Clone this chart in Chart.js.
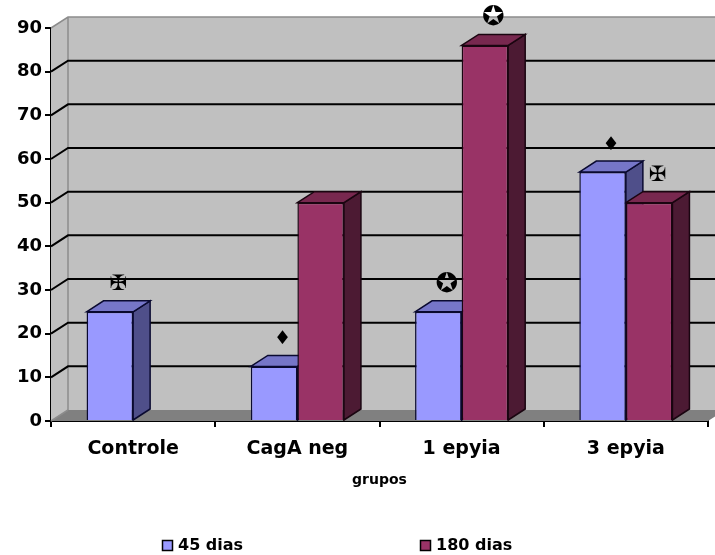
<!DOCTYPE html>
<html>
<head>
<meta charset="utf-8">
<script src="https://cdn.jsdelivr.net/npm/chart.js@4/dist/chart.umd.min.js"></script>
<style>
  html, body { margin: 0; padding: 0; background: #ffffff; }
  #wrap { width: 715px; height: 555px; }
</style>
</head>
<body>
<div id="wrap"><canvas id="grafico" width="715" height="555"></canvas></div>
<script>
// Categorias e valores (%)
const grupos = ['Controle', 'CagA neg', '1 epyia', '3 epyia'];
const dias45 = [25, 12.5, 25, 57];
const dias180 = [null, 50, 86, 50];
// Símbolos de significância desenhados sobre cada barra
const marcas45 = ['✠', '♦', '✪', '♦'];
const marcas180 = [null, null, '✪', '✠'];
const yTicks = [0, 10, 20, 30, 40, 50, 60, 70, 80, 90];

const FONTE = '"DejaVu Sans", "Liberation Sans", Arial, sans-serif';
// profundidade da perspectiva 3D
const DX = 17, DY = 11;

const cores = [
  { frente: '#9999FF', topo: '#7676C8', lado: '#4F4F8A', borda: '#0A0A30' },
  { frente: '#993366', topo: '#78284F', lado: '#4C1A33', borda: '#1A0510' }
];

function poly(ctx, pts, fill, stroke, lw) {
  ctx.beginPath();
  ctx.moveTo(pts[0][0], pts[0][1]);
  for (let i = 1; i < pts.length; i++) ctx.lineTo(pts[i][0], pts[i][1]);
  ctx.closePath();
  if (fill) { ctx.fillStyle = fill; ctx.fill(); }
  if (stroke) { ctx.strokeStyle = stroke; ctx.lineWidth = lw || 1; ctx.stroke(); }
}

// Paredes, piso, linhas de grade e faces laterais/superiores das barras
const cena3d = {
  id: 'cena3d',
  beforeDatasetsDraw(chart) {
    const { ctx, chartArea: { left, right, top, bottom }, scales: { y } } = chart;
    ctx.save();
    // parede do fundo
    ctx.fillStyle = '#C0C0C0';
    ctx.fillRect(left + DX, top - DY, right - left, bottom - top);
    // parede lateral esquerda
    poly(ctx, [[left, top], [left + DX, top - DY], [left + DX, bottom - DY], [left, bottom]], '#C0C0C0');
    // piso
    poly(ctx, [[left, bottom], [right, bottom], [right + DX, bottom - DY], [left + DX, bottom - DY]], '#808080');

    // contornos das paredes
    ctx.strokeStyle = '#8C8C8C';
    ctx.lineWidth = 1.5;
    ctx.beginPath();
    ctx.moveTo(left, top);
    ctx.lineTo(left + DX, top - DY);
    ctx.lineTo(right + DX, top - DY);
    ctx.moveTo(left + DX, top - DY);
    ctx.lineTo(left + DX, bottom - DY);
    ctx.moveTo(left, bottom);
    ctx.lineTo(left + DX, bottom - DY);
    ctx.stroke();

    // linhas de grade
    ctx.strokeStyle = '#000000';
    ctx.lineWidth = 2;
    yTicks.forEach(v => {
      if (v === y.min || v === y.max) return;
      const py = y.getPixelForValue(v);
      ctx.beginPath();
      ctx.moveTo(left, py);
      ctx.lineTo(left + DX, py - DY);
      ctx.lineTo(right + DX, py - DY);
      ctx.stroke();
    });

    // faces laterais e superiores das barras
    chart.data.datasets.forEach((ds, d) => {
      const meta = chart.getDatasetMeta(d);
      const c = cores[d];
      meta.data.forEach((el, i) => {
        if (ds.data[i] == null) return;
        const p = el.getProps(['x', 'y', 'base', 'width'], true);
        const l = p.x - p.width / 2, r = p.x + p.width / 2;
        poly(ctx, [[r, p.y], [r + DX, p.y - DY], [r + DX, p.base - DY], [r, p.base]], c.lado, c.borda, 1.5);
        poly(ctx, [[l, p.y], [l + DX, p.y - DY], [r + DX, p.y - DY], [r, p.y]], c.topo, c.borda, 1.5);
      });
    });
    ctx.restore();
  },
  afterDatasetsDraw(chart) {
    const { ctx } = chart;
    const marcas = [marcas45, marcas180];
    const tamanho = { '✪': 27, '✠': 21, '♦': 19 };
    ctx.save();
    ctx.fillStyle = '#000000';
    ctx.textAlign = 'center';
    ctx.textBaseline = 'middle';
    chart.data.datasets.forEach((ds, d) => {
      const meta = chart.getDatasetMeta(d);
      meta.data.forEach((el, i) => {
        const m = marcas[d][i];
        if (!m || ds.data[i] == null) return;
        const p = el.getProps(['x', 'y'], true);
        ctx.font = 'bold ' + tamanho[m] + 'px ' + FONTE;
        ctx.fillText(m, p.x + DX / 2, p.y - 27);
      });
    });
    ctx.restore();
  },
  afterDraw(chart) {
    // legenda
    const { ctx } = chart;
    const posX = [162, 420];
    const yc = 545;
    ctx.save();
    ctx.font = 'bold 16px ' + FONTE;
    ctx.textAlign = 'left';
    ctx.textBaseline = 'middle';
    chart.data.datasets.forEach((ds, d) => {
      const x = posX[d];
      ctx.fillStyle = ds.backgroundColor;
      ctx.fillRect(x, yc - 5, 11, 11);
      ctx.strokeStyle = '#000000';
      ctx.lineWidth = 1.5;
      ctx.strokeRect(x + 0.5, yc - 4.5, 10, 10);
      ctx.fillStyle = '#000000';
      ctx.fillText(ds.label, x + 16, yc + 1);
    });
    ctx.restore();
  }
};

new Chart(document.getElementById('grafico'), {
  type: 'bar',
  data: {
    labels: grupos,
    datasets: [
      { label: '45 dias', data: dias45, backgroundColor: cores[0].frente, borderColor: cores[0].borda, borderWidth: 1.5 },
      { label: '180 dias', data: dias180, backgroundColor: cores[1].frente, borderColor: cores[1].borda, borderWidth: 1.5 }
    ]
  },
  options: {
    responsive: false,
    animation: false,
    layout: { padding: { top: 28, right: 7, bottom: 66, left: 0 } },
    datasets: { bar: { categoryPercentage: 0.567, barPercentage: 1.0 } },
    plugins: {
      legend: { display: false },
      tooltip: { enabled: false }
    },
    scales: {
      x: {
        afterFit(s) { s.height = 68; },
        grid: { offset: true, drawOnChartArea: false, tickLength: 6, color: '#000000', lineWidth: 2 },
        border: { display: true, color: '#000000', width: 2 },
        ticks: { color: '#000000', padding: 11, font: { family: FONTE, size: 19, weight: 'bold' } },
        title: { display: true, text: 'grupos', color: '#000000', padding: 0, font: { family: FONTE, size: 14, weight: 'bold' } }
      },
      y: {
        min: 0,
        max: 90,
        afterFit(s) { s.width = 51; },
        afterBuildTicks(s) { s.ticks = yTicks.map(v => ({ value: v })); },
        grid: { drawOnChartArea: false, tickLength: 6, color: '#000000', lineWidth: 2 },
        border: { display: true, color: '#000000', width: 2 },
        ticks: { color: '#000000', padding: 3, font: { family: FONTE, size: 18, weight: 'bold' } }
      }
    }
  },
  plugins: [cena3d]
});
</script>
</body>
</html>
